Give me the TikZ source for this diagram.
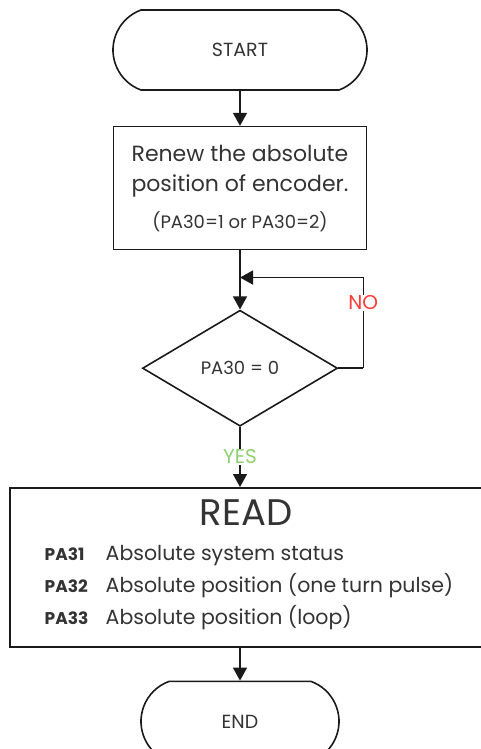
\documentclass[tikz,border=0pt]{standalone}
\usepackage{fontspec}
\setmainfont{Poppins}
\usetikzlibrary{arrows.meta,positioning,calc,shapes.geometric,shapes.misc}
\definecolor{Ink}{HTML}{333333}
\definecolor{Stroke}{HTML}{1A1A1A}
\definecolor{NoRed}{HTML}{FF3B3B}
\definecolor{YesGreen}{HTML}{8FD16E}
\tikzset{
  term/.style={rounded rectangle,rounded rectangle arc length=140,draw=Stroke,line width=1.6pt,minimum height=80pt,inner sep=0pt,text=Ink,font=\fontsize{19}{22}\selectfont},
  stepbox/.style={draw=Stroke,line width=1.6pt,minimum width=253pt,minimum height=123pt,align=center,text=Ink,inner sep=0pt},
  decide/.style={diamond,draw=Stroke,line width=1.6pt,minimum width=195pt,minimum height=116pt,inner sep=0pt,text=Ink,font=\fontsize{18}{20}\selectfont},
  readbox/.style={draw=Stroke,line width=1.6pt,minimum width=480pt,minimum height=159pt,inner sep=0pt},
  rowtag/.style={anchor=base west,text=Ink,font=\fontsize{17}{20}\selectfont\bfseries},
  rowtext/.style={anchor=base west,text=Ink,font=\fontsize{20.5}{24}\selectfont},
  flow/.style={-{Triangle[length=13pt,width=14pt]},draw=Stroke,line width=1.6pt},
  plainline/.style={draw=Stroke,line width=1.6pt},
  answer/.style={fill=white,inner sep=1pt,font=\fontsize{20}{22}\selectfont}
}
\begin{document}
\begin{tikzpicture}[x=1pt,y=1pt]
  \useasboundingbox (0,-749) rectangle (480,0);
  \node[term,minimum width=254pt] (start) at (240,-50) {START};
  \node[stepbox,below=35pt of start,font=\fontsize{22}{30}\selectfont] (renew) {Renew the absolute\\position of encoder.\\[7pt]{\fontsize{18}{22}\selectfont(PA30=1 or PA30=2)}};
  \node[decide,below=59pt of renew] (check) {PA30 = 0};
  \node[readbox,below=60pt of check,xshift=10pt] (read) {};
  \node[text=Ink,font=\fontsize{37}{40}\selectfont] (readtitle) at ($(read.north)+(-4pt,-26pt)$) {READ};
  \node[rowtag] (pa31) at ($(read.west)+(32pt,6.5pt)$) {PA31};
  \node[rowtag] (pa32) at ($(pa31.base west)+(0,-32pt)$) {PA32};
  \node[rowtag] (pa33) at ($(pa32.base west)+(0,-32pt)$) {PA33};
  \node[rowtext] (sys) at ($(pa31.base west)+(61pt,0)$) {Absolute system status};
  \node[rowtext] (turn) at ($(pa32.base west)+(61pt,0)$) {Absolute position (one turn pulse)};
  \node[rowtext] (loop) at ($(pa33.base west)+(61pt,0)$) {Absolute position (loop)};
  \node[term,minimum width=198pt,below=33pt of read.south -| check.south] (end) {END};
  % arrows
  \draw[flow] (start) -- (renew);
  \coordinate (merge) at ($(renew.south)!0.46!(check.north)$);
  \draw[flow] (renew) -- (check);
  \draw[plainline] (check.east) -- ++(25pt,0) coordinate (turnback);
  \draw[flow] (turnback) |- node[answer,pos=.36,text=NoRed] {NO} (merge);
  \draw[flow] (check.south) -- node[answer,text=YesGreen] {YES} (check.south |- read.north);
  \draw[flow] (read.south -| end.north) -- (end.north);
\end{tikzpicture}
\end{document}
